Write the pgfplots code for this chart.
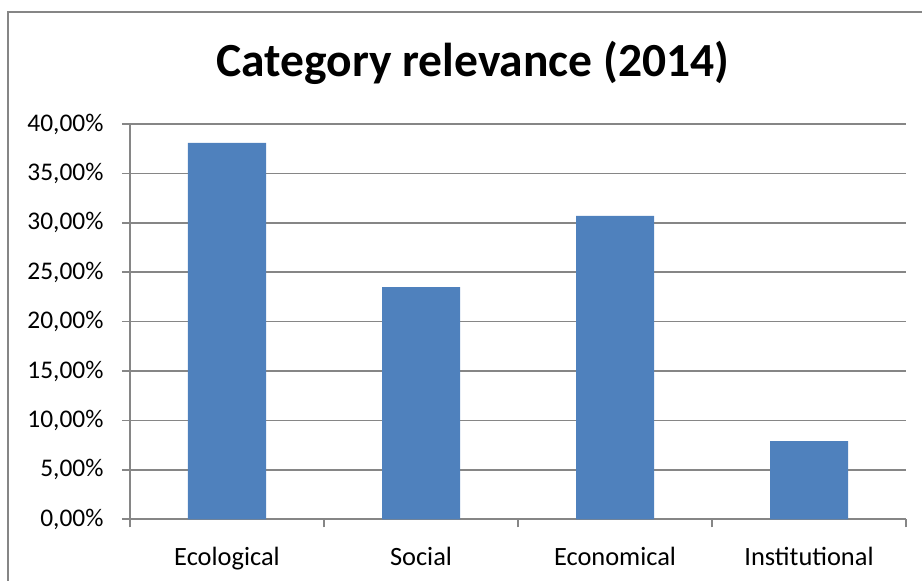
\documentclass[border=0pt]{standalone}
\usepackage{pgfplots}
\pgfplotsset{compat=1.18}
\usepackage{fontspec}
\setmainfont{Carlito}
\definecolor{barblue}{HTML}{4F81BD}
\definecolor{gridgray}{HTML}{868686}
\begin{document}
\begin{tikzpicture}[x=1bp,y=1bp]
\useasboundingbox (-130,-61.7) rectangle (792,519.3);
\draw[gridgray, line width=1.6bp] (-122,-61.7) -- (-122,507.3) -- (792,507.3);
\node[anchor=base, font=\fontsize{47.7}{52}\selectfont\bfseries] at (343,442.6) {Category relevance (2014)};
\begin{axis}[
  at={(0,0)}, anchor=origin,
  scale only axis,
  width=776bp, height=395.3bp,
  xmin=0, xmax=4, ymin=0, ymax=40,
  axis lines=left,
  axis line style={-, gridgray, line width=1.7bp},
  xtick={0.5,1.5,2.5,3.5},
  xticklabels={Ecological,Social,Economical,Institutional},
  major x tick style={draw=none},
  minor xtick={0,1,2,3,4},
  minor x tick style={gridgray, line width=1.7bp},
  minor tick length=8bp,
  ytick={0,5,10,15,20,25,30,35,40},
  yticklabels={{0,00\%},{5,00\%},{10,00\%},{15,00\%},{20,00\%},{25,00\%},{30,00\%},{35,00\%},{40,00\%}},
  major y tick style={gridgray, line width=1.7bp},
  major tick length=8bp,
  tick align=outside,
  ymajorgrids,
  grid style={gridgray, line width=1.7bp},
  yticklabel style={font=\fontsize{25.5}{26}\selectfont, xshift=-15bp},
  xticklabel style={font=\fontsize{26.5}{27}\selectfont, yshift=-16bp},
  ybar, bar width=78bp,
]
\addplot[fill=barblue, draw=none] coordinates {(0.5,38.1) (1.5,23.5) (2.5,30.7) (3.5,7.9)};
\end{axis}
\end{tikzpicture}
\end{document}
